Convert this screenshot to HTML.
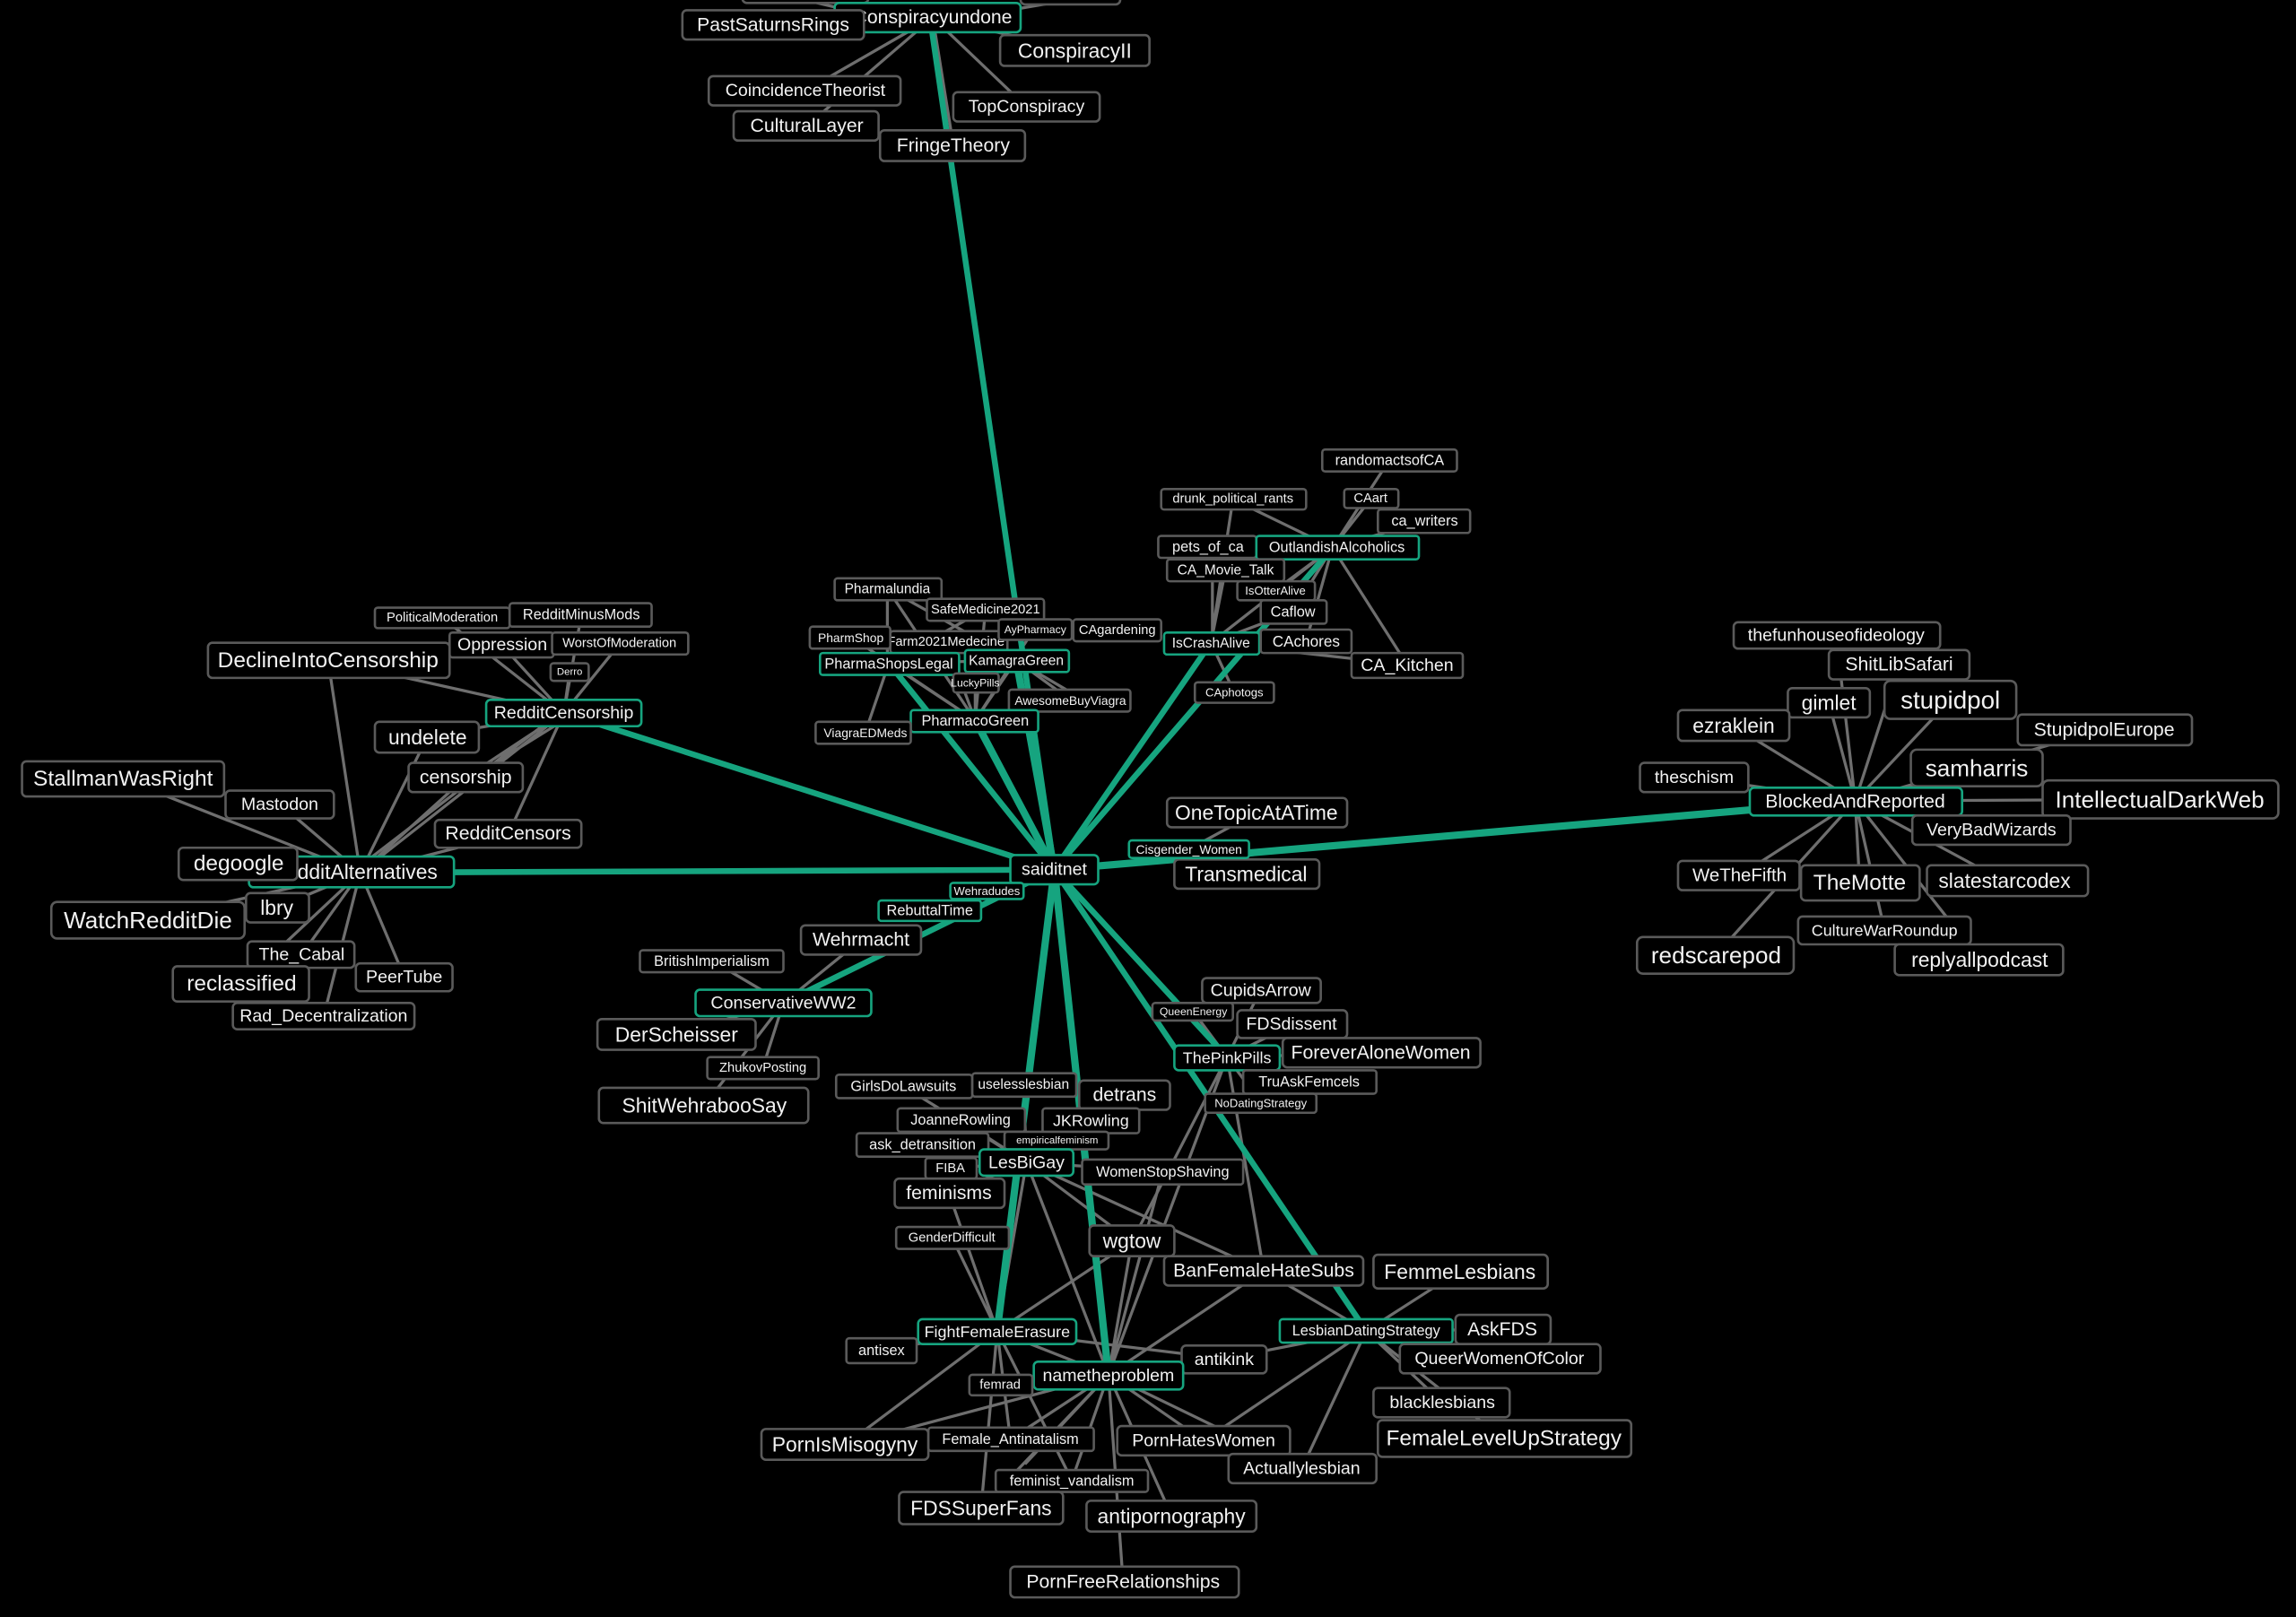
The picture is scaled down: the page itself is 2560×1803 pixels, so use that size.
<!DOCTYPE html>
<html><head><meta charset="utf-8"><style>
html,body{margin:0;padding:0;background:#000;}
svg{display:block}
text{font-family:"Liberation Sans",Arial,sans-serif;fill:#f2f2f2;text-anchor:middle;dominant-baseline:central}
.g{stroke:#16a47f;stroke-linecap:round;fill:none}
.e{stroke:#6e6e6e;stroke-width:2;fill:none}
rect{fill:#000;stroke:#5a5a5a;stroke-width:1.6}
rect.h{stroke:#16a47f}
</style></head><body>
<svg width="2560" height="1803" viewBox="0 0 1568 1104.4" xmlns="http://www.w3.org/2000/svg">
<rect x="0" y="0" width="1568" height="1104.4" style="fill:#000;stroke:none"/>
<!-- gray edges -->
<g class="e">
<!-- conspiracy -->
<path d="M637 12L528 17M637 12L734 34M637 12L550 62M637 12L701 73M637 12L551 86M637 12L651 99M600 12L550 0M660 12L730 0"/>
<!-- pharma -->
<path d="M606 402L666 492M606 402L606 453M673 416L666 492M673 416L607 453M581 435L666 492M646 438L666 492M706 430L666 492M706 430L607 453M731 478L694 451M666 466L666 492M694 451L666 492M607 453L666 492M607 453L694 451M591 500L607 453M694 451L740 478M646 438L694 451M606 402L694 451"/>
<!-- CA -->
<path d="M842 341L910 374M949 314L910 374M936 341L910 374M973 356L910 374M825 373L910 374M837 389L910 374M871 403L910 374M883 418L910 374M892 438L910 374M961 454L910 374M827 439L910 374M827 439L892 438M827 439L961 454M843 473L827 439M828 380L828 439M837 389L827 439M883 418L827 439M842 341L827 439"/>
<!-- BAR -->
<path d="M1267 547L1254 434M1267 547L1297 454M1267 547L1249 480M1267 547L1332 478M1267 547L1184 496M1267 547L1437 498M1267 547L1350 524M1267 547L1157 531M1267 547L1475 546M1267 547L1360 567M1267 547L1188 598M1267 547L1270 603M1267 547L1369 602M1267 547L1287 635M1267 547L1172 652M1267 547L1352 655"/>
<path d="M858 555L812 580"/>
<!-- reddit censorship -->
<path d="M385 487L302 422M385 487L397 420M385 487L343 441M385 487L423 440M385 487L389 459M385 487L224 451M385 487L292 503M380 490L318 531M388 490L322 531M385 487L246 596M378 490L240 596M385 487L347 570"/>
<path d="M246 596L224 451M246 596L84 532M246 596L191 549M246 596L163 590M246 596L189 620M246 596L101 628M246 596L206 652M246 596L276 667M246 596L165 672M246 596L221 694M246 596L347 570M246 596L318 531M246 596L292 503"/>
<!-- ww2 -->
<path d="M535 685L486 656M535 685L462 706M535 685L521 729M535 685L481 755M535 685L588 642"/>
<!-- lower -->
<path d="M838 722L861 676M838 722L815 691M838 722L882 700M838 722L943 719M838 722L894 739M838 722L861 753M838 722L773 848M838 722L863 868M838 722L757 939"/>
<path d="M701 794L617 742M701 794L699 740M701 794L768 748M701 794L656 765M701 794L745 765M701 794L630 782M701 794L722 779M701 794L649 798M701 794L794 800M701 794L648 815M701 794L757 939M701 794L681 909M701 794L863 868M701 794L773 848"/>
<path d="M681 909L602 922M681 909L650 845M681 909L577 987M681 909L670 1030M681 909L690 983M681 909L732 1011M681 909L836 928M681 909L773 848M681 909L757 939M648 815L681 909"/>
<path d="M757 939L683 946M757 939L577 987M757 939L690 983M757 939L670 1030M757 939L732 1011M757 939L800 1035M757 939L767 1081M757 939L822 984M757 939L836 928M757 939L773 848M757 939L863 868M757 939L794 800M757 939L889 1003M757 939L700 1000"/>
<path d="M933 909L997 868M933 909L1026 908M933 909L1024 928M933 909L985 958M933 909L1027 983M933 909L889 1003M933 909L822 984M933 909L863 868M933 909L836 928"/>
</g>
<!-- green edges -->
<g class="g">
<path d="M636 18L720 594" stroke-width="4"/>
<path d="M666 492L720 594" stroke-width="5"/>
<path d="M607 453L720 594" stroke-width="4"/>
<path d="M694 451L720 594" stroke-width="5"/>
<path d="M827 439L720 594" stroke-width="4"/>
<path d="M905 380L720 594" stroke-width="4"/>
<path d="M1267 547L720 594" stroke-width="5"/>
<path d="M385 487L720 594" stroke-width="4"/>
<path d="M246 596L720 594" stroke-width="4"/>
<path d="M535 685L720 594" stroke-width="4"/>
<path d="M838 722L720 594" stroke-width="4"/>
<path d="M933 909L720 594" stroke-width="4"/>
<path d="M681 909L720 594" stroke-width="5"/>
<path d="M757 939L720 594" stroke-width="5"/>
</g>
<!-- nodes -->
<g>
<rect x="507" y="-12" width="86" height="14" rx="3"/>
<rect x="697" y="-12" width="68" height="15" rx="3"/>
<rect class="h" x="570" y="2" width="127" height="20" rx="3"/><text x="637" y="12" font-size="13">Conspiracyundone</text>
<rect x="466" y="7" width="124" height="20" rx="3"/><text x="528" y="17" font-size="13">PastSaturnsRings</text>
<rect x="683" y="24" width="102" height="21" rx="3"/><text x="734" y="34.5" font-size="14">ConspiracyII</text>
<rect x="484" y="52" width="131" height="20" rx="3"/><text x="550" y="62" font-size="12">CoincidenceTheorist</text>
<rect x="651" y="63" width="100" height="20" rx="3"/><text x="701" y="73" font-size="12">TopConspiracy</text>
<rect x="501" y="76" width="99" height="20" rx="3"/><text x="551" y="86" font-size="13">CulturalLayer</text>
<rect x="601" y="89" width="99" height="21" rx="3"/><text x="651" y="99.5" font-size="13">FringeTheory</text>

<rect x="570" y="395" width="73" height="15" rx="2"/><text x="606" y="402.5" font-size="9.5">Pharmalundia</text>
<rect x="633" y="409" width="80" height="15" rx="2"/><text x="673" y="416.5" font-size="9">SafeMedicine2021</text>
<rect x="608" y="431" width="80" height="15" rx="2"/><text x="646" y="438.5" font-size="9">Farm2021Medecine</text>
<rect x="553" y="428" width="55" height="15" rx="2"/><text x="581" y="435.5" font-size="8.5">PharmShop</text>
<rect x="682" y="423" width="50" height="14" rx="2"/><text x="707" y="430" font-size="7.5">AyPharmacy</text>
<rect x="733" y="423" width="60" height="15" rx="2"/><text x="763" y="430.5" font-size="9">CAgardening</text>
<rect class="h" x="560" y="446" width="95" height="15" rx="2"/><text x="607" y="453.5" font-size="10">PharmaShopsLegal</text>
<rect class="h" x="659" y="444" width="71" height="15" rx="2"/><text x="694" y="451.5" font-size="9.5">KamagraGreen</text>
<rect x="651" y="460" width="31" height="13" rx="2"/><text x="666" y="466.5" font-size="7.5">LuckyPills</text>
<rect x="689" y="471" width="83" height="15" rx="2"/><text x="731" y="478.5" font-size="8.5">AwesomeBuyViagra</text>
<rect class="h" x="622" y="485" width="87" height="15" rx="2"/><text x="666" y="492.5" font-size="10">PharmacoGreen</text>
<rect x="557" y="493" width="65" height="15" rx="2"/><text x="591" y="500.5" font-size="8.5">ViagraEDMeds</text>

<rect x="903" y="307" width="92" height="15" rx="2"/><text x="949" y="314.5" font-size="10">randomactsofCA</text>
<rect x="793" y="334" width="99" height="14" rx="2"/><text x="842" y="341" font-size="9">drunk_political_rants</text>
<rect x="918" y="334" width="37" height="13" rx="2"/><text x="936" y="340.5" font-size="9">CAart</text>
<rect x="941" y="348" width="63" height="16" rx="2"/><text x="973" y="356" font-size="10">ca_writers</text>
<rect x="791" y="366" width="67" height="15" rx="2"/><text x="825" y="373.5" font-size="10">pets_of_ca</text>
<rect class="h" x="858" y="366" width="111" height="16" rx="2"/><text x="913" y="374" font-size="10">OutlandishAlcoholics</text>
<rect x="797" y="382" width="80" height="15" rx="2"/><text x="837" y="389.5" font-size="9.5">CA_Movie_Talk</text>
<rect x="845" y="397" width="53" height="13" rx="2"/><text x="871" y="403.5" font-size="8">IsOtterAlive</text>
<rect x="861" y="410" width="45" height="16" rx="2"/><text x="883" y="418" font-size="10">Caflow</text>
<rect class="h" x="795" y="432" width="65" height="15" rx="2"/><text x="827" y="439.5" font-size="9.5">IsCrashAlive</text>
<rect x="861" y="430" width="62" height="16" rx="2"/><text x="892" y="438" font-size="10.5">CAchores</text>
<rect x="923" y="446" width="76" height="17" rx="2"/><text x="961" y="454.5" font-size="12">CA_Kitchen</text>
<rect x="816" y="466" width="54" height="14" rx="2"/><text x="843" y="473" font-size="8">CAphotogs</text>

<rect x="1184" y="425" width="141" height="18" rx="3"/><text x="1254" y="434" font-size="12">thefunhouseofideology</text>
<rect x="1249" y="444" width="96" height="20" rx="3"/><text x="1297" y="454" font-size="13">ShitLibSafari</text>
<rect x="1221" y="470" width="56" height="20" rx="3"/><text x="1249" y="480" font-size="14">gimlet</text>
<rect x="1287" y="465" width="90" height="26" rx="4"/><text x="1332" y="478" font-size="17">stupidpol</text>
<rect x="1146" y="485" width="76" height="21" rx="3"/><text x="1184" y="495.5" font-size="14">ezraklein</text>
<rect x="1378" y="488" width="119" height="21" rx="3"/><text x="1437" y="498.5" font-size="13">StupidpolEurope</text>
<rect x="1305" y="512" width="90" height="25" rx="4"/><text x="1350" y="524.5" font-size="16">samharris</text>
<rect x="1120" y="521" width="74" height="20" rx="3"/><text x="1157" y="531" font-size="12">theschism</text>
<rect x="1395" y="533" width="161" height="26" rx="4"/><text x="1475" y="546" font-size="16">IntellectualDarkWeb</text>
<rect class="h" x="1195" y="538" width="145" height="19" rx="3"/><text x="1267" y="547.5" font-size="13">BlockedAndReported</text>
<rect x="1306" y="557" width="108" height="20" rx="3"/><text x="1360" y="567" font-size="12">VeryBadWizards</text>
<rect x="1146" y="588" width="83" height="20" rx="3"/><text x="1188" y="598" font-size="12.5">WeTheFifth</text>
<rect x="1230" y="591" width="81" height="24" rx="3"/><text x="1270" y="603" font-size="15">TheMotte</text>
<rect x="1316" y="591" width="110" height="21" rx="3"/><text x="1369" y="601.5" font-size="14">slatestarcodex</text>
<rect x="1228" y="626" width="118" height="19" rx="3"/><text x="1287" y="635.5" font-size="11">CultureWarRoundup</text>
<rect x="1118" y="640" width="107" height="25" rx="4"/><text x="1172" y="652.5" font-size="16">redscarepod</text>
<rect x="1294" y="645" width="115" height="21" rx="3"/><text x="1352" y="655.5" font-size="14">replyallpodcast</text>

<rect x="797" y="545" width="123" height="20" rx="3"/><text x="858" y="555" font-size="14">OneTopicAtATime</text>
<rect x="802" y="587" width="99" height="20" rx="3"/><text x="851" y="597" font-size="14">Transmedical</text>
<rect class="h" x="771" y="574" width="82" height="12" rx="2"/><text x="812" y="580" font-size="8.5">Cisgender_Women</text>
<rect class="h" x="690" y="584" width="60" height="20" rx="3"/><text x="720" y="594" font-size="12">saiditnet</text>

<rect x="256" y="415" width="92" height="14" rx="2"/><text x="302" y="422" font-size="9">PoliticalModeration</text>
<rect x="348" y="412" width="97" height="16" rx="2"/><text x="397" y="420" font-size="10">RedditMinusMods</text>
<rect x="307" y="432" width="71" height="17" rx="2"/><text x="343" y="440.5" font-size="12">Oppression</text>
<rect x="377" y="432" width="93" height="15" rx="2"/><text x="423" y="439.5" font-size="9">WorstOfModeration</text>
<rect x="376" y="453" width="26" height="12" rx="2"/><text x="389" y="459" font-size="7">Derro</text>
<rect x="142" y="439" width="165" height="24" rx="3"/><text x="224" y="451" font-size="15">DeclineIntoCensorship</text>
<rect class="h" x="332" y="478" width="106" height="18" rx="3"/><text x="385" y="487" font-size="12">RedditCensorship</text>
<rect x="256" y="493" width="71" height="21" rx="3"/><text x="292" y="503.5" font-size="14">undelete</text>
<rect x="279" y="521" width="78" height="20" rx="3"/><text x="318" y="531" font-size="13">censorship</text>
<rect x="297" y="560" width="100" height="19" rx="3"/><text x="347" y="569.5" font-size="13">RedditCensors</text>
<rect class="h" x="170" y="585" width="140" height="21" rx="3"/><text x="242" y="595.5" font-size="14">RedditAlternatives</text>
<rect x="15" y="520" width="138" height="24" rx="3"/><text x="84" y="532" font-size="15">StallmanWasRight</text>
<rect x="154" y="540" width="74" height="19" rx="3"/><text x="191" y="549.5" font-size="12">Mastodon</text>
<rect x="122" y="579" width="81" height="22" rx="3"/><text x="163" y="590" font-size="15">degoogle</text>
<rect x="168" y="610" width="43" height="20" rx="3"/><text x="189" y="620" font-size="14">lbry</text>
<rect x="35" y="616" width="132" height="25" rx="4"/><text x="101" y="628.5" font-size="16">WatchRedditDie</text>
<rect x="169" y="643" width="73" height="18" rx="3"/><text x="206" y="652" font-size="12">The_Cabal</text>
<rect x="243" y="658" width="66" height="19" rx="3"/><text x="276" y="667.5" font-size="12">PeerTube</text>
<rect x="118" y="660" width="93" height="24" rx="3"/><text x="165" y="672" font-size="15">reclassified</text>
<rect x="159" y="685" width="124" height="18" rx="3"/><text x="221" y="694" font-size="12">Rad_Decentralization</text>

<rect class="h" x="649" y="603" width="50" height="11" rx="2"/><text x="674" y="608.5" font-size="8">Wehradudes</text>
<rect class="h" x="600" y="615" width="70" height="14" rx="2"/><text x="635" y="622" font-size="10">RebuttalTime</text>
<rect x="547" y="632" width="82" height="20" rx="3"/><text x="588" y="642" font-size="13">Wehrmacht</text>
<rect x="437" y="649" width="98" height="15" rx="2"/><text x="486" y="656.5" font-size="10">BritishImperialism</text>
<rect class="h" x="475" y="676" width="120" height="18" rx="3"/><text x="535" y="685" font-size="12">ConservativeWW2</text>
<rect x="408" y="696" width="108" height="21" rx="3"/><text x="462" y="706.5" font-size="14">DerScheisser</text>
<rect x="483" y="722" width="76" height="15" rx="2"/><text x="521" y="729.5" font-size="9">ZhukovPosting</text>
<rect x="409" y="743" width="143" height="24" rx="3"/><text x="481" y="755" font-size="14">ShitWehrabooSay</text>

<rect x="821" y="668" width="81" height="17" rx="3"/><text x="861" y="676.5" font-size="12">CupidsArrow</text>
<rect x="787" y="685" width="55" height="12" rx="2"/><text x="815" y="691" font-size="7.5">QueenEnergy</text>
<rect x="845" y="690" width="75" height="19" rx="3"/><text x="882" y="699.5" font-size="12">FDSdissent</text>
<rect x="876" y="709" width="135" height="20" rx="3"/><text x="943" y="719" font-size="13">ForeverAloneWomen</text>
<rect class="h" x="802" y="714" width="72" height="17" rx="3"/><text x="838" y="722.5" font-size="11">ThePinkPills</text>
<rect x="849" y="731" width="91" height="16" rx="2"/><text x="894" y="739" font-size="10">TruAskFemcels</text>
<rect x="823" y="747" width="76" height="13" rx="2"/><text x="861" y="753.5" font-size="8">NoDatingStrategy</text>
<rect x="571" y="734" width="93" height="16" rx="2"/><text x="617" y="742" font-size="10">GirlsDoLawsuits</text>
<rect x="664" y="733" width="71" height="16" rx="2"/><text x="699" y="741" font-size="9.5">uselesslesbian</text>
<rect x="737" y="738" width="62" height="20" rx="3"/><text x="768" y="748" font-size="13">detrans</text>
<rect x="613" y="757" width="87" height="16" rx="2"/><text x="656" y="765" font-size="10">JoanneRowling</text>
<rect x="712" y="757" width="66" height="17" rx="2"/><text x="745" y="765.5" font-size="11">JKRowling</text>
<rect x="585" y="774" width="90" height="16" rx="2"/><text x="630" y="782" font-size="10">ask_detransition</text>
<rect x="686" y="773" width="71" height="12" rx="2"/><text x="722" y="779" font-size="7">empiricalfeminism</text>
<rect x="632" y="791" width="35" height="14" rx="2"/><text x="649" y="798" font-size="9">FIBA</text>
<rect class="h" x="669" y="785" width="64" height="18" rx="3"/><text x="701" y="794" font-size="12">LesBiGay</text>
<rect x="739" y="792" width="110" height="17" rx="2"/><text x="794" y="800.5" font-size="10">WomenStopShaving</text>
<rect x="611" y="805" width="75" height="20" rx="3"/><text x="648" y="815" font-size="13">feminisms</text>
<rect x="612" y="838" width="77" height="15" rx="2"/><text x="650" y="845.5" font-size="9">GenderDifficult</text>
<rect x="744" y="837" width="58" height="21" rx="3"/><text x="773" y="847.5" font-size="14">wgtow</text>
<rect x="795" y="858" width="136" height="20" rx="3"/><text x="863" y="868" font-size="13">BanFemaleHateSubs</text>
<rect x="938" y="857" width="119" height="23" rx="3"/><text x="997" y="868.5" font-size="14">FemmeLesbians</text>
<rect class="h" x="874" y="901" width="118" height="16" rx="2"/><text x="933" y="909" font-size="10">LesbianDatingStrategy</text>
<rect x="994" y="898" width="65" height="20" rx="3"/><text x="1026" y="908" font-size="13">AskFDS</text>
<rect x="956" y="918" width="137" height="20" rx="3"/><text x="1024" y="928" font-size="12">QueerWomenOfColor</text>
<rect class="h" x="627" y="901" width="108" height="17" rx="3"/><text x="681" y="909.5" font-size="11">FightFemaleErasure</text>
<rect x="578" y="914" width="48" height="17" rx="2"/><text x="602" y="922.5" font-size="10">antisex</text>
<rect x="807" y="919" width="58" height="19" rx="3"/><text x="836" y="928.5" font-size="12">antikink</text>
<rect class="h" x="706" y="930" width="102" height="19" rx="3"/><text x="757" y="939.5" font-size="12">nametheproblem</text>
<rect x="662" y="939" width="43" height="14" rx="2"/><text x="683" y="946" font-size="9">femrad</text>
<rect x="938" y="948" width="93" height="20" rx="3"/><text x="985" y="958" font-size="12">blacklesbians</text>
<rect x="941" y="970" width="173" height="25" rx="3"/><text x="1027" y="982.5" font-size="15">FemaleLevelUpStrategy</text>
<rect x="520" y="976" width="114" height="21" rx="3"/><text x="577" y="986.5" font-size="14">PornIsMisogyny</text>
<rect x="634" y="975" width="113" height="16" rx="2"/><text x="690" y="983" font-size="10">Female_Antinatalism</text>
<rect x="763" y="974" width="118" height="20" rx="3"/><text x="822" y="984" font-size="12">PornHatesWomen</text>
<rect x="839" y="993" width="101" height="20" rx="3"/><text x="889" y="1003" font-size="12">Actuallylesbian</text>
<rect x="680" y="1004" width="104" height="15" rx="2"/><text x="732" y="1011.5" font-size="10">feminist_vandalism</text>
<rect x="614" y="1019" width="112" height="22" rx="3"/><text x="670" y="1030" font-size="14">FDSSuperFans</text>
<rect x="742" y="1025" width="116" height="21" rx="3"/><text x="800" y="1035.5" font-size="14">antipornography</text>
<rect x="690" y="1070" width="156" height="21" rx="3"/><text x="767" y="1080.5" font-size="13">PornFreeRelationships</text>
</g>
</svg>
</body></html>
